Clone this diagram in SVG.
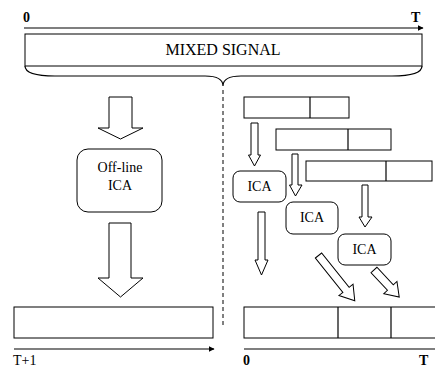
<svg xmlns="http://www.w3.org/2000/svg" width="435" height="368" viewBox="0 0 435 368">
<defs>
<marker id="ah" viewBox="0 0 10 10" refX="9" refY="5" markerWidth="6" markerHeight="6" orient="auto" markerUnits="userSpaceOnUse"><path d="M0,0 L10,5 L0,10 Z" fill="#000"/></marker>
</defs>
<style>
.s{fill:#fff;stroke:#000;stroke-width:1}
.ln{fill:none;stroke:#000;stroke-width:1.2}
.t{font-family:"Liberation Serif","Times New Roman",serif;fill:#000}
.b{font-weight:bold}
</style>
<rect width="435" height="368" fill="#fff"/>
<g id="top-axis">
<line class="ln" x1="24" y1="28" x2="423" y2="28" marker-end="url(#ah)"/>
<text class="t b" x="23" y="22" font-size="14">0</text>
<text class="t b" x="411" y="22" font-size="14">T</text>
</g>
<g id="mixed-signal">
<rect class="s" x="25" y="34" width="397" height="32"/>
<text class="t" x="223" y="55" font-size="16" text-anchor="middle">MIXED SIGNAL</text>
<path class="ln" d="M25,66 Q25,76 55,76 H205 Q223,76 223,86 Q223,76 241,76 H392 Q422,76 422,66"/>
</g>
<line x1="223" y1="90" x2="223" y2="326" stroke="#000" stroke-width="1" stroke-dasharray="4,3"/>
<g id="offline-ica">
<rect class="s" x="77" y="149" width="85" height="63" rx="11"/>
<text class="t" x="120" y="172" font-size="14" text-anchor="middle">Off-line</text>
<text class="t" x="120" y="190" font-size="14" text-anchor="middle">ICA</text>
</g>
<g id="out-left">
<rect class="s" x="14" y="307" width="199" height="31"/>
<line class="ln" x1="14" y1="349" x2="214" y2="349" marker-end="url(#ah)"/>
<text class="t" x="13" y="365" font-size="14">T+1</text>
</g>
<g id="win1">
<rect class="s" x="244" y="97" width="105" height="21"/>
<line class="ln" x1="310" y1="97" x2="310" y2="118"/>
</g>
<g id="win2">
<rect class="s" x="276" y="129" width="115" height="21"/>
<line class="ln" x1="348" y1="129" x2="348" y2="150"/>
</g>
<g id="win3">
<rect class="s" x="306" y="161" width="126" height="20"/>
<line class="ln" x1="386" y1="161" x2="386" y2="181"/>
</g>
<g id="ica1">
<rect class="s" x="233" y="171" width="53" height="31" rx="7"/>
<text class="t" x="259.5" y="191" font-size="14" text-anchor="middle">ICA</text>
</g>
<g id="ica2">
<rect class="s" x="286" y="202" width="52" height="32" rx="7"/>
<text class="t" x="312" y="222" font-size="14" text-anchor="middle">ICA</text>
</g>
<g id="ica3">
<rect class="s" x="338" y="234" width="53" height="31" rx="7"/>
<text class="t" x="364.5" y="254" font-size="14" text-anchor="middle">ICA</text>
</g>
<g id="out-right">
<rect class="s" x="244" y="307" width="200" height="31"/>
<line class="ln" x1="338" y1="307" x2="338" y2="338"/>
<line class="ln" x1="391" y1="307" x2="391" y2="338"/>
<line class="ln" x1="244" y1="349" x2="440" y2="349"/>
<text class="t b" x="243" y="365" font-size="14">0</text>
<text class="t b" x="419" y="365" font-size="14">T</text>
</g>
<g id="connectors">
<path class="s" d="M109,97 H132 V128 H143 L120.5,139 L98,128 H109 Z"/>
<path class="s" d="M109,223 H131 V278 H143 L120.5,297 L98,278 H109 Z"/>
<path class="s" d="M251,123 H258 V155 H260.5 L254.5,166 L248.5,155 H251 Z"/>
<path class="s" d="M292,154 H298 V185 H302 L295.5,196 L289.5,185 H292 Z"/>
<path class="s" d="M362,185 H368 V217 H372 L365,227 L359,217 H362 Z"/>
<path class="s" d="M258,212 H265 V260 H268 L261.5,275 L255,260 H258 Z"/>
<path class="s" transform="translate(318.5,255.5) rotate(-38.7)" d="M-4,0 H4 V44 H9 L0,58 L-9,44 H-4 Z"/>
<path class="s" transform="translate(374,270) rotate(-43)" d="M-4,0 H4 V24 H9 L0,37 L-9,24 H-4 Z"/>
</g>
</svg>
